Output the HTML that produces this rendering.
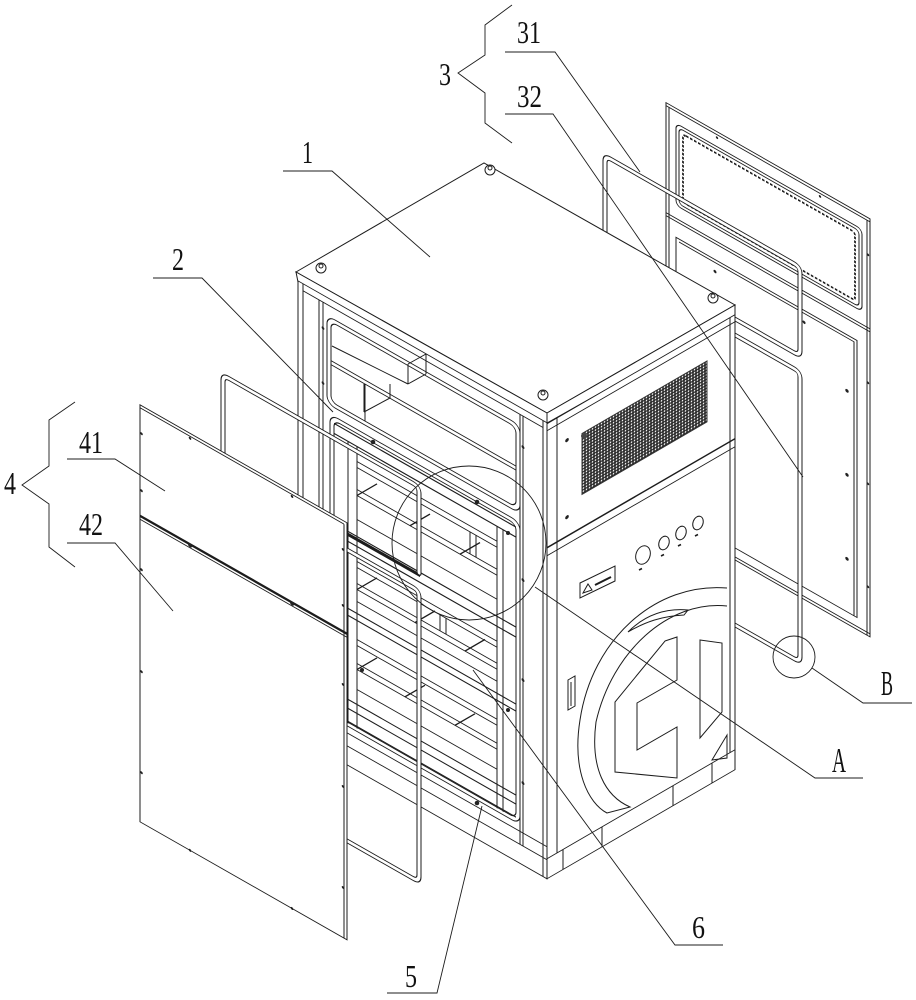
<!DOCTYPE html>
<html><head><meta charset="utf-8"><style>
html,body{margin:0;padding:0;background:#fff;}
svg{display:block}
text{font-family:"Liberation Serif",serif;fill:#111;stroke:none;}
</style></head><body>
<svg width="916" height="1000" viewBox="0 0 916 1000" xmlns="http://www.w3.org/2000/svg">
<defs>
<pattern id="mesh" width="3" height="3" patternUnits="userSpaceOnUse"><rect width="3" height="3" fill="#2a2a2a"/><circle cx="1.5" cy="1.5" r="0.85" fill="#fff"/></pattern>
</defs>
<rect width="916" height="1000" fill="#fff"/>
<g fill="none" stroke="#1c1c1c" stroke-width="1">

<!-- ===== Right rear panel 3 (31 / 32) ===== -->
<g transform="matrix(1,0.57,0,1,0,0)">
 <rect x="666" y="-277" width="204" height="418" fill="#fff"/>
 <path d="M669 -274V141 M867 -274V141 M666 -274H870 M666 -167H870 M666 -164H870 M666 138H870"/>
 <rect x="676" y="-262" width="186" height="82" rx="5"/>
 <rect x="679" y="-259" width="180" height="76" rx="4"/>
 <rect x="683" y="-255" width="172" height="68" rx="3" stroke-dasharray="2.5 1.5" stroke-width="1.8"/>
 <rect x="676" y="-148" width="181" height="277"/>
 <path d="M679 -145H854V129"/>
 <g fill="#222" stroke="none">
  <circle cx="847" cy="-92" r="1.7"/><circle cx="847" cy="-8" r="1.7"/><circle cx="847" cy="76" r="1.7"/>
  <circle cx="868" cy="-112" r="1.2"/><circle cx="868" cy="-11" r="1.2"/><circle cx="868" cy="92" r="1.2"/>
  <circle cx="715" cy="-136" r="1.5"/><circle cx="804" cy="-136" r="1.5"/><circle cx="715" cy="120" r="1.5"/>
  <circle cx="717" cy="-271" r="1.2"/><circle cx="820" cy="-271" r="1.2"/><circle cx="868" cy="-240" r="1.2"/>
 </g>
</g>

<!-- ===== Right tubes ===== -->
<g transform="matrix(1,0.57,0,1,0,0)" stroke-linecap="round">
 <path d="M605 -113V-183Q605 -189 611 -189H794Q800 -189 800 -183V-106Q800 -100 794 -100H735" stroke-width="5"/>
 <path d="M605 -113V-183Q605 -189 611 -189H794Q800 -189 800 -183V-106Q800 -100 794 -100H735" stroke-width="3" stroke="#fff"/>
 <path d="M735 -84H794Q800 -84 800 -78V200Q800 206 794 206H735" stroke-width="5"/>
 <path d="M735 -84H794Q800 -84 800 -78V200Q800 206 794 206H735" stroke-width="3" stroke="#fff"/>
</g>

<!-- ===== Cabinet top ===== -->
<polygon points="296,272 484,163 735,305 547,413" fill="#fff"/>
<polygon points="296,272 547,413 547,423 298,282" fill="#fff"/>
<polygon points="547,413 735,305 735,317 547,423" fill="#fff"/>

<!-- ===== Cabinet front face (left in view) ===== -->
<g transform="matrix(1,0.57,0,1,0,0)">
 <rect x="298" y="111" width="249" height="456" fill="#fff"/>
 <path d="M303 111V567 M319 118V567 M323 118V567 M520 118V548 M523 118V548 M543 111V567 M303 118H543"/>
 <rect x="327" y="129" width="193" height="88" rx="8"/>
 <rect x="331" y="133" width="185" height="80" rx="6"/>
 <path d="M331 172H516 M331 176H516 M365 176V213"/>
 <rect x="330" y="226" width="190" height="302" rx="8"/>
 <rect x="334" y="230" width="182" height="294" rx="6"/>
 <path d="M348 243V525 M357 243V525 M497 243V525 M503 243V525"/>
 <path d="M334 233H516 M334 243H516" stroke-width="1.3"/>
 <path d="M334 333H516 M334 343H516" stroke-width="1.3"/>
 <path d="M348 336H420" stroke-width="3.5"/>
 <path d="M334 410H516 M334 417H516 M334 501H516 M334 510H516 M334 523H516" stroke-width="1.2"/>
 <path d="M357 258H497 M357 264H497 M357 286H497 M357 292H497 M357 316H497
          M357 358H497 M357 364H497 M357 380H497 M357 386H497 M357 398H497
          M357 436H497 M357 442H497 M357 460H497 M357 466H497 M357 486H497"/>
 <path d="M357 292L377 269 M410 292L430 269 M460 292L480 269
          M357 386L377 363 M415 386L435 363 M465 386L485 363
          M357 466L377 443 M405 466L425 443 M455 466L475 443
          M470 264V286 M476 264V286 M440 364V380 M446 364V380"/>
 <path d="M330 535H547 M330 548H547"/>
 <g fill="#222" stroke="none">
  <circle cx="523" cy="149" r="1.5"/><circle cx="523" cy="282" r="1.5"/><circle cx="523" cy="382" r="1.5"/><circle cx="523" cy="485" r="1.5"/>
  <circle cx="323" cy="144" r="1.4"/><circle cx="323" cy="199" r="1.4"/>
 </g>
</g>
<path d="M332 346L408 384 M408 364V384 M408 364L426 354 M426 354V374 M408 384L426 374 M364 384V412 M364 412L390 398 M390 384V398"/>
<g fill="#222" stroke="none">
 <circle cx="373" cy="442" r="2.3"/><circle cx="477" cy="502" r="2.3"/><circle cx="508" cy="533" r="2"/>
 <circle cx="362" cy="670" r="2"/><circle cx="477" cy="803" r="2.3"/><circle cx="508" cy="710" r="2"/>
</g>

<!-- ===== Cabinet right face ===== -->
<g transform="matrix(1,-0.58,0,1,0,0)">
 <rect x="547" y="741" width="188" height="455" fill="#fff"/>
 <path d="M557 741V1176 M730 741V1176 M547 748H735"/>
 <rect x="582" y="771" width="125" height="61" fill="url(#mesh)" stroke="#333"/>
 <path d="M547 865H735" stroke-width="1.7"/>
 <path d="M547 873H735"/>
 <path d="M547 1176H735 M563 1176V1196 M602 1176V1196 M673 1176V1196 M712 1176V1196"/>
 <g fill="#222" stroke="none"><circle cx="567" cy="769" r="1.8"/><circle cx="567" cy="846" r="1.8"/></g>
</g>
<circle cx="584" cy="436" r="3" fill="#444" stroke="none"/>
<ellipse cx="643" cy="555" rx="7" ry="9.5" transform="rotate(20 643 555)"/>
<ellipse cx="664" cy="543" rx="5" ry="7" transform="rotate(20 664 543)"/>
<ellipse cx="681" cy="533" rx="5" ry="7" transform="rotate(20 681 533)"/>
<ellipse cx="698" cy="523" rx="5" ry="7" transform="rotate(20 698 523)"/>
<g stroke-width="1.6"><path d="M639 570l3 -1.5 M661 556l3 -1.5 M678 546l3 -1.5 M695 536l3 -1.5"/></g>
<polygon points="580,583 615,566 615,581 580,598" fill="#fff"/>
<polygon points="583,593 588,584 592,590" />
<path d="M595 585l16 -8" stroke-width="2"/>
<polygon points="568,680 575,676 575,706 568,710"/>
<path d="M571 682V706"/>
<path d="M727 588C655 582 592 640 580 720C572 770 588 803 607 813L630 807C605 796 590 768 596 722C612 652 668 600 727 606"/>
<path d="M628 632C645 615 665 608 688 610L684 615C662 616 645 622 628 632Z"/>
<polygon points="665,641 677,637 677,680 637,703 637,750 677,727 677,778 615,772 615,702"/>
<polygon points="700,640 722,643 722,712 700,738"/>
<polygon points="727,735 727,758 712,760"/>

<g>
 <circle cx="490" cy="170" r="5" fill="#fff"/><circle cx="490" cy="168" r="2"/>
 <circle cx="321" cy="268" r="5" fill="#fff"/><circle cx="321" cy="266" r="2"/>
 <circle cx="713" cy="298" r="5" fill="#fff"/><circle cx="713" cy="296" r="2"/>
 <circle cx="543" cy="395" r="5" fill="#fff"/><circle cx="543" cy="393" r="2"/>
</g>

<!-- ===== Left tubes ===== -->
<g transform="matrix(1,0.57,0,1,0,0)" stroke-linecap="round">
 <path d="M223 330V254Q223 248 229 248H413Q419 248 419 254V334" stroke-width="5"/>
 <path d="M223 330V254Q223 248 229 248H413Q419 248 419 254V334" stroke-width="3" stroke="#fff"/>
 <path d="M348 352H413Q419 352 419 358V637Q419 643 413 643H346" stroke-width="5"/>
 <path d="M348 352H413Q419 352 419 358V637Q419 643 413 643H346" stroke-width="3" stroke="#fff"/>
</g>

<!-- ===== Left panel 4 (41 / 42) ===== -->
<g transform="matrix(1,0.57,0,1,0,0)">
 <rect x="140" y="325" width="207" height="417" fill="#fff"/>
 <path d="M140 328H344 M344 328V742"/>
 <path d="M140 436H347" stroke-width="2.6"/>
 <path d="M140 439.5H347"/>
 <g fill="#222" stroke="none">
  <circle cx="141.5" cy="353" r="1.3"/><circle cx="141.5" cy="410" r="1.3"/><circle cx="141.5" cy="489" r="1.3"/><circle cx="141.5" cy="591" r="1.3"/><circle cx="141.5" cy="692" r="1.3"/>
  <circle cx="343" cy="354" r="1.3"/><circle cx="343" cy="410" r="1.3"/><circle cx="343" cy="489" r="1.3"/><circle cx="343" cy="591" r="1.3"/><circle cx="343" cy="692" r="1.3"/>
  <circle cx="190" cy="330" r="1.3"/><circle cx="292" cy="330" r="1.3"/>
  <circle cx="190" cy="437" r="2"/><circle cx="292" cy="437" r="2"/>
  <circle cx="190" cy="742" r="1.3"/><circle cx="292" cy="742" r="1.3"/>
 </g>
</g>

<circle cx="469" cy="543" r="77" stroke-width="0.9"/>
<circle cx="794" cy="657" r="21" stroke-width="0.9"/>

<g stroke-width="0.9">
 <path d="M283 171H332L430 257"/>
 <path d="M153 278H202L333 412"/>
 <path d="M512 5L485 25V55L458 73L485 93V123L512 143"/>
 <path d="M505 52H555L640 172"/>
 <path d="M505 114H553L803 477"/>
 <path d="M75 402L49 420V466L22 485L49 504V547L75 567"/>
 <path d="M67 459H115L165 491"/>
 <path d="M67 543H115L173 611"/>
 <path d="M535 587L815 778H863"/>
 <path d="M812 668L863 703H912"/>
 <path d="M387 993H437L482 806"/>
 <path d="M473 670L675 945H723"/>
</g>
</g>

<g font-size="32" font-family="Liberation Serif, serif">
 <text x="302" y="163" textLength="11" lengthAdjust="spacingAndGlyphs">1</text>
 <text x="172" y="270" textLength="12" lengthAdjust="spacingAndGlyphs">2</text>
 <text x="439" y="85" textLength="12" lengthAdjust="spacingAndGlyphs">3</text>
 <text x="517" y="43" textLength="24" lengthAdjust="spacingAndGlyphs">31</text>
 <text x="517" y="107" textLength="25" lengthAdjust="spacingAndGlyphs">32</text>
 <text x="4" y="494" textLength="12" lengthAdjust="spacingAndGlyphs">4</text>
 <text x="79" y="453" textLength="24" lengthAdjust="spacingAndGlyphs">41</text>
 <text x="79" y="535" textLength="24" lengthAdjust="spacingAndGlyphs">42</text>
 <text x="405" y="987" textLength="12" lengthAdjust="spacingAndGlyphs">5</text>
 <text x="692" y="938" textLength="13" lengthAdjust="spacingAndGlyphs">6</text>
</g>
<g font-size="35" font-family="Liberation Serif, serif">
 <text x="832" y="772" textLength="14" lengthAdjust="spacingAndGlyphs">A</text>
 <text x="881" y="695" textLength="12" lengthAdjust="spacingAndGlyphs">B</text>
</g>
</svg>
</body></html>
